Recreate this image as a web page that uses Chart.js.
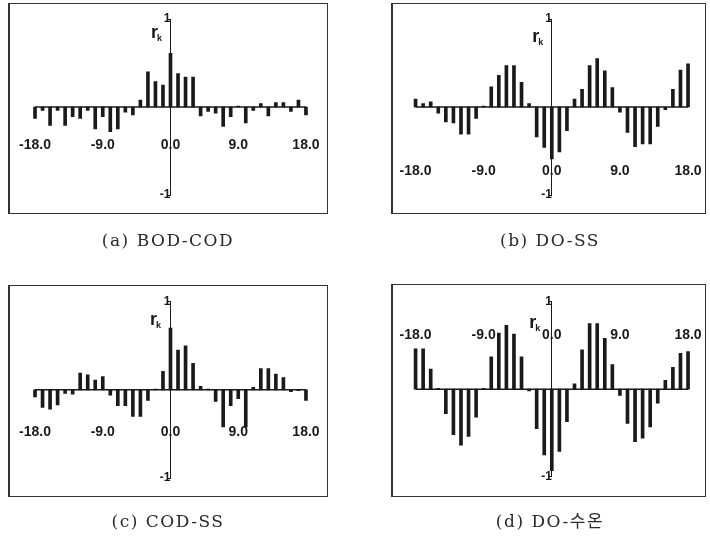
<!DOCTYPE html>
<html>
<head>
<meta charset="utf-8">
<script src="https://cdn.jsdelivr.net/npm/chart.js@4"></script>
<style>
body{margin:0;background:#fff;width:710px;height:547px;position:relative;overflow:hidden}
canvas{position:absolute}
.frame{position:absolute;border:1.5px solid #333;border-left-width:2px;box-sizing:border-box;pointer-events:none}
.cap{position:absolute;font-size:17px;letter-spacing:1.5px;font-family:'DejaVu Serif','Noto Sans CJK KR',serif;color:#2a2a2a;transform:translateX(-50%);white-space:nowrap;line-height:18px}
</style>
</head>
<body>
<canvas id="ca" width="320" height="211" style="left:8px;top:3px"></canvas>
<canvas id="cb" width="315" height="211" style="left:391px;top:3px"></canvas>
<canvas id="cc" width="320" height="212" style="left:8px;top:285px"></canvas>
<canvas id="cd" width="315" height="213" style="left:391px;top:284px"></canvas>
<div class="frame" style="left:8px;top:3px;width:320px;height:211px"></div>
<div class="frame" style="left:391px;top:3px;width:315px;height:211px"></div>
<div class="frame" style="left:8px;top:285px;width:320px;height:212px"></div>
<div class="frame" style="left:391px;top:284px;width:315px;height:213px"></div>
<div class="cap" id="capA" style="left:168px;top:231px"></div>
<div class="cap" id="capB" style="left:550px;top:231px"></div>
<div class="cap" id="capC" style="left:168px;top:512px"></div>
<div class="cap" id="capD" style="left:550px;top:512px"></div>
<script>
// lags k = -18 .. 18
let lags=[-18,-17,-16,-15,-14,-13,-12,-11,-10,-9,-8,-7,-6,-5,-4,-3,-2,-1,0,1,2,3,4,5,6,7,8,9,10,11,12,13,14,15,16,17,18]

// cross correlation r_k
let bodCod=[-0.13,-0.04,-0.21,-0.04,-0.21,-0.11,-0.13,-0.04,-0.25,-0.11,-0.28,-0.25,-0.06,-0.09,0.08,0.40,0.29,0.25,0.61,0.38,0.34,0.34,-0.10,-0.05,-0.07,-0.22,-0.11,0.01,-0.18,-0.04,0.04,-0.10,0.05,0.05,-0.05,0.08,-0.09]
let doSs=[0.09,0.04,0.06,-0.07,-0.17,-0.18,-0.31,-0.31,-0.13,0.01,0.23,0.36,0.47,0.47,0.28,0.04,-0.34,-0.46,-0.59,-0.51,-0.27,0.09,0.20,0.47,0.55,0.41,0.22,-0.06,-0.29,-0.45,-0.42,-0.42,-0.22,-0.03,0.20,0.42,0.49]
let codSs=[-0.08,-0.20,-0.22,-0.17,-0.04,-0.05,0.19,0.17,0.11,0.15,-0.06,-0.18,-0.18,-0.30,-0.30,-0.12,0.01,0.21,0.70,0.45,0.50,0.30,0.04,0.01,-0.13,-0.42,-0.18,-0.10,-0.42,0.03,0.24,0.24,0.18,0.14,-0.02,-0.01,-0.12]
let doTemp=[0.46,0.46,0.23,0.01,-0.28,-0.52,-0.64,-0.54,-0.32,0.01,0.37,0.64,0.73,0.63,0.37,-0.02,-0.45,-0.75,-0.93,-0.71,-0.37,0.06,0.45,0.75,0.75,0.58,0.28,-0.07,-0.39,-0.60,-0.56,-0.43,-0.16,0.10,0.25,0.41,0.43]

let xTickValues=[-18,-9,0,9,18]
let yTickValues=[-1,1]
let zeroLine=[{x:-18,y:0},{x:18,y:0}]
let captions=["(a) BOD-COD","(b) DO-SS","(c) COD-SS","(d) DO-수온"]

const ink="#1a1a1a"
const tickFont="'Liberation Sans',Arial,sans-serif"

// r_k label next to the top of the y axis
const rkLabel={
id:"rk",
afterDraw(chart,args,opts){
const ctx=chart.ctx
const px=chart.scales.x.getPixelForValue(0)+opts.dx
const py=chart.scales.y.getPixelForValue(1)+opts.dy
ctx.save()
ctx.fillStyle=ink
ctx.textBaseline="middle"
ctx.textAlign="center"
ctx.font="bold 18px "+tickFont
ctx.fillText("r",px,py)
ctx.font="bold 9px "+tickFont
ctx.fillText("k",px+5,py+6)
ctx.restore()
}
}

function makeChart(id,values,labelAt,pad,rk){

return new Chart(document.getElementById(id),{
type:"bar",
data:{
labels:lags,
datasets:[
{type:"line",data:zeroLine,borderColor:ink,borderWidth:1.5,pointRadius:0},
{data:values,backgroundColor:ink,barThickness:3}
]
},
options:{
responsive:false,
animation:false,
layout:{padding:pad},
plugins:{legend:{display:false},tooltip:{enabled:false},rk:rk},
scales:{
x:{
type:"linear",min:-19,max:19,offset:false,
position:{y:labelAt},
afterFit:s=>{s.height=0},
afterBuildTicks:s=>{s.ticks=xTickValues.map(v=>({value:v}))},
grid:{display:false,drawTicks:false,offset:false},
border:{display:false},
ticks:{callback:v=>v.toFixed(1),autoSkip:false,maxRotation:0,padding:0,color:ink,font:{family:tickFont,size:14,weight:"bold"}}
},
y:{
type:"linear",min:-1,max:1,
position:{x:0},
afterFit:s=>{s.width=0},
afterBuildTicks:s=>{s.ticks=yTickValues.map(v=>({value:v}))},
grid:{drawOnChartArea:false,tickLength:3,color:ink},
border:{color:ink,width:1},
ticks:{padding:2,color:ink,font:{family:tickFont,size:12,weight:"bold"}}
}
}
},
plugins:[rkLabel]
})

}

makeChart("ca",bodCod,-0.34,{left:19.5,right:14.5,top:16,bottom:19},{dx:-16,dy:14})
makeChart("cb",doSs,-0.63,{left:17,right:10.4,top:16,bottom:19},{dx:-16,dy:18})
makeChart("cc",codSs,-0.39,{left:19.5,right:14.5,top:16.7,bottom:19},{dx:-17,dy:18})
makeChart("cd",doTemp,0.71,{left:17,right:10.4,top:17.7,bottom:20.3},{dx:-19,dy:21})

document.getElementById("capA").innerText=captions[0]
document.getElementById("capB").innerText=captions[1]
document.getElementById("capC").innerText=captions[2]
document.getElementById("capD").innerText=captions[3]
</script>
</body>
</html>
